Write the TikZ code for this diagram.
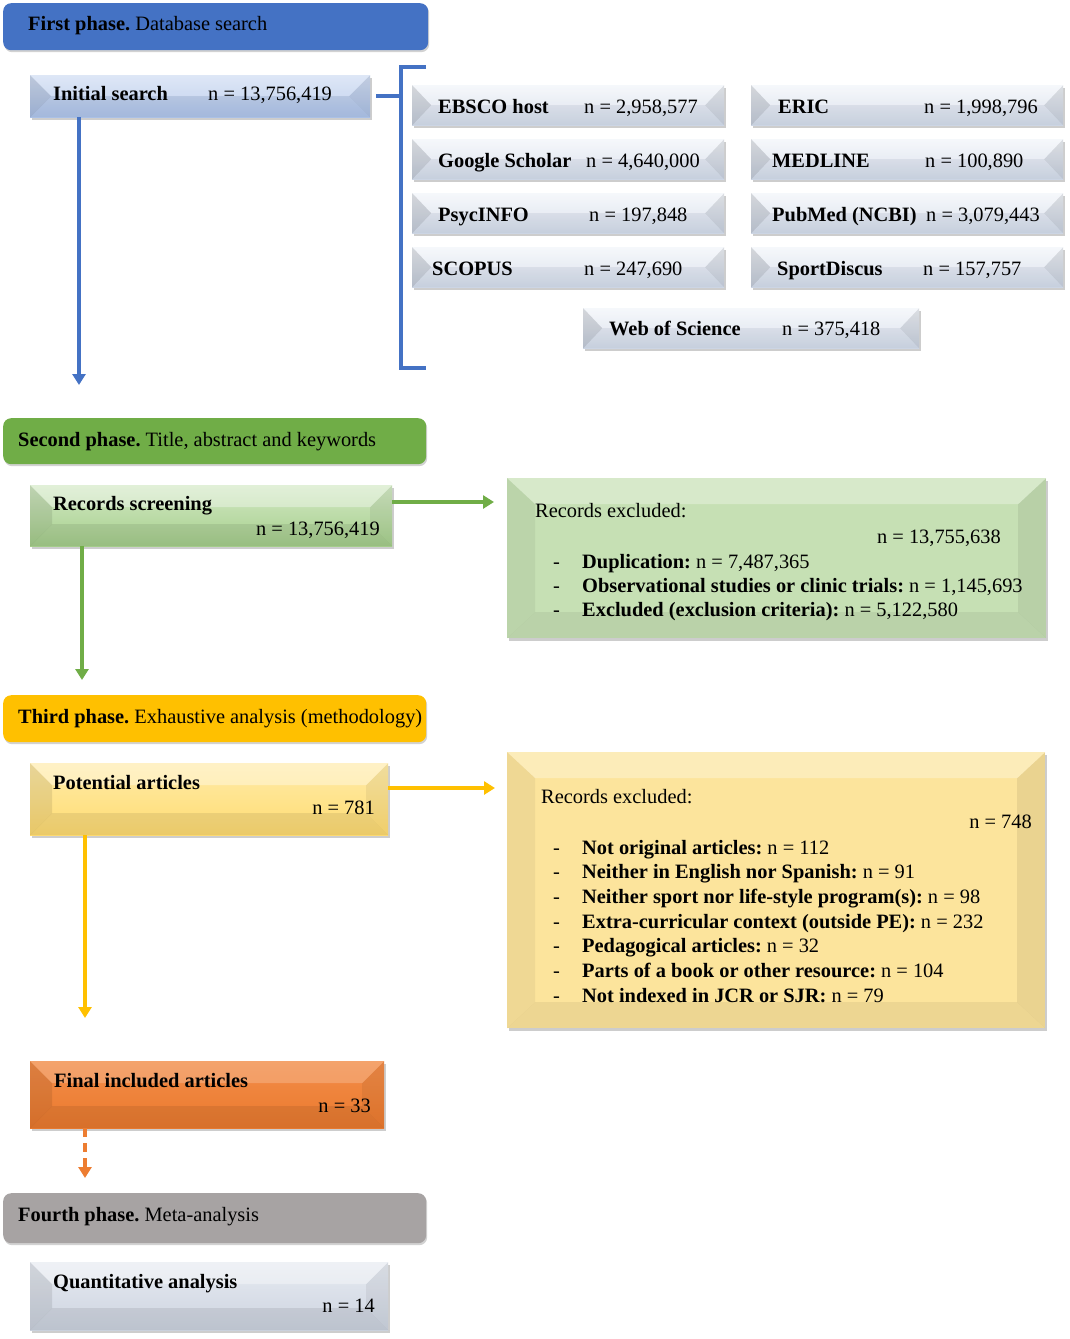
\documentclass[tikz,border=0pt]{standalone}
\usepackage{fontspec}
\setmainfont{Liberation Serif}
\usetikzlibrary{arrows.meta,shadows,calc}

\definecolor{pblue}{HTML}{4472C4}
\definecolor{pgreen}{HTML}{70AD47}
\definecolor{pgold}{HTML}{FFC000}
\definecolor{porange}{HTML}{ED7D31}
\definecolor{pgray}{HTML}{A7A3A3}
\definecolor{dbtop}{HTML}{F2F5FA}
\definecolor{dbbot}{HTML}{CDD6E5}
\definecolor{inittop}{HTML}{D3DFF4}
\definecolor{initbot}{HTML}{ACC2E8}
\definecolor{rstop}{HTML}{D2E8C4}
\definecolor{rsbot}{HTML}{A6CF8C}
\definecolor{gexfill}{HTML}{C6E0B4}
\definecolor{patop}{HTML}{FFEBA8}
\definecolor{pabot}{HTML}{FFDC72}
\definecolor{yexfill}{HTML}{FCE49C}
\definecolor{fintop}{HTML}{F28C48}
\definecolor{finbot}{HTML}{EB7A2E}
\definecolor{qatop}{HTML}{E6EAF1}
\definecolor{qabot}{HTML}{CDD4E0}

\tikzset{
  x=1pt, y=-1pt,
  bvx/.store in=\bvx, bvy/.store in=\bvy, bvx=20pt, bvy=8pt,
  btop/.store in=\btop, bleft/.store in=\bleft, bright/.store in=\bright, bbot/.store in=\bbot,
  btop=.35, bleft=.09, bright=.06, bbot=.08,
  bevel/.style={path picture={
    \fill[white,opacity=\btop] let \p1=(path picture bounding box.south west), \p2=(path picture bounding box.north east) in
      (\x1,\y2) -- (\x2,\y2) -- (\x2-\bvx,\y2-\bvy) -- (\x1+\bvx,\y2-\bvy) -- cycle;
    \fill[black,opacity=\bleft] let \p1=(path picture bounding box.south west), \p2=(path picture bounding box.north east) in
      (\x1,\y2) -- (\x1+\bvx,\y2-\bvy) -- (\x1+\bvx,\y1+\bvy) -- (\x1,\y1) -- cycle;
    \fill[black,opacity=\bright] let \p1=(path picture bounding box.south west), \p2=(path picture bounding box.north east) in
      (\x2,\y2) -- (\x2-\bvx,\y2-\bvy) -- (\x2-\bvx,\y1+\bvy) -- (\x2,\y1) -- cycle;
    \fill[black,opacity=\bbot] let \p1=(path picture bounding box.south west), \p2=(path picture bounding box.north east) in
      (\x1,\y1) -- (\x1+\bvx,\y1+\bvy) -- (\x2-\bvx,\y1+\bvy) -- (\x2,\y1) -- cycle;
  }},
  box/.style={anchor=north west, inner sep=0pt, bevel,
    drop shadow={shadow xshift=1.5pt, shadow yshift=-3pt, opacity=.28, fill=black!70}},
  dbbox/.style={box, top color=dbtop, bottom color=dbbot, minimum width=312, minimum height=40,
    bvx=19pt, bvy=20pt, btop=.3, bleft=.12, bright=.09, bbot=.03},
  phase/.style={anchor=north west, inner sep=0pt, rounded corners=8pt,
    drop shadow={shadow xshift=1pt, shadow yshift=-2pt, opacity=.25, fill=black!70}},
  txt/.style={inner sep=0pt, font=\fontsize{20.4}{25}\selectfont\frenchspacing},
  tl/.style={txt, anchor=base west},
  tr/.style={txt, anchor=base east},
  con/.style={line width=3.8pt},
  arr/.style={line width=3.8pt, -{Triangle[width=13pt,length=11pt]}},
}

\begin{document}
\begin{tikzpicture}
\useasboundingbox (0,0) rectangle (1070,1339);

% ---------- First phase ----------
\node[phase, fill=pblue, minimum width=425, minimum height=47] (ph1) at (3,3) {};
\node[tl] (ph1t) at (28,30.5) {\textbf{First phase.} Database search};

\node[box, top color=inittop, bottom color=initbot, minimum width=340, minimum height=42, bvx=21pt, bvy=21pt, btop=.25, bleft=.1, bright=.08, bbot=.05] (init) at (30,75) {};
\node[tl] (initl) at (53,100) {\textbf{Initial search}};
\node[tl] (initn) at (208,100) {n = 13,756,419};

% databases
\node[dbbox] (ebsco) at (412,85) {};
\node[dbbox] (gs) at (412,139) {};
\node[dbbox] (psyc) at (412,193) {};
\node[dbbox] (scopus) at (412,247) {};
\node[dbbox] (eric) at (751,85) {};
\node[dbbox] (medline) at (751,139) {};
\node[dbbox] (pubmed) at (751,193) {};
\node[dbbox] (sport) at (751,247) {};
\node[dbbox, minimum width=336] (wos) at (583,308) {};

\node[tl] (ebscol) at (438,113) {\textbf{EBSCO host}};
\node[tl] (ebscon) at (584,113) {n = 2,958,577};
\node[tl] (gsl) at (438,167) {\textbf{Google Scholar}};
\node[tl] (gsn) at (586,167) {n = 4,640,000};
\node[tl] (psycl) at (438,221) {\textbf{PsycINFO}};
\node[tl] (psycn) at (589,221) {n = 197,848};
\node[tl] (scopusl) at (432,275) {\textbf{SCOPUS}};
\node[tl] (scopusn) at (584,275) {n = 247,690};
\node[tl] (ericl) at (778,113) {\textbf{ERIC}};
\node[tl] (ericn) at (924,113) {n = 1,998,796};
\node[tl] (medl) at (772,167) {\textbf{MEDLINE}};
\node[tl] (medn) at (925,167) {n = 100,890};
\node[tl] (publ) at (772,221) {\textbf{PubMed (NCBI)}};
\node[tl] (pubn) at (926,221) {n = 3,079,443};
\node[tl] (sportl) at (777,275) {\textbf{SportDiscus}};
\node[tl] (sportn) at (923,275) {n = 157,757};
\node[tl] (wosl) at (609,335) {\textbf{Web of Science}};
\node[tl] (wosn) at (782,335) {n = 375,418};

% bracket and connectors
\coordinate (brt) at (426,67);
\coordinate (brb) at (426,368);
\coordinate (brx) at (401,0);
\draw[con, pblue] (brt) -- (brt -| brx) -- (brb -| brx) -- (brb);
\draw[con, pblue] ([xshift=6pt]init.east) -- (init.east -| brx);
\coordinate (a1) at (79,385);
\draw[arr, pblue] (init.south -| a1) -- (a1);

% ---------- Second phase ----------
\node[phase, fill=pgreen, minimum width=423, minimum height=46] (ph2) at (3,418) {};
\node[tl] (ph2t) at (18,446) {\textbf{Second phase.} Title, abstract and keywords};

\node[box, top color=rstop, bottom color=rsbot, minimum width=362, minimum height=61, bvx=22pt, bvy=22pt] (rs) at (30,485) {};
\node[tl] (rsl) at (53,510) {\textbf{Records screening}};
\node[tr] (rsn) at (380,535) {n = 13,756,419};

\node[box, fill=gexfill, minimum width=539, minimum height=160, bvx=28pt, bvy=26pt, btop=.3, bleft=.05, bright=.07, bbot=.06] (gex) at (507,478) {};
\node[tl] (gexl) at (535,517) {Records excluded:};
\node[tr] (gexn) at (1001,543) {n = 13,755,638};
\foreach \t [count=\i] in {{\textbf{Duplication:} n = 7,487,365},
  {\textbf{Observational studies or clinic trials:} n = 1,145,693},
  {\textbf{Excluded (exclusion criteria):} n = 5,122,580}}{
  \node[tl] (gexd\i) at (553,{568.5+24*(\i-1)}) {-};
  \node[tl] (gexi\i) at (582,{568.5+24*(\i-1)}) {\t};
}

\coordinate (a2) at (494,502);
\draw[arr, pgreen] (rs.east |- a2) -- (a2);
\coordinate (a3) at (82,680);
\draw[arr, pgreen] (rs.south -| a3) -- (a3);

% ---------- Third phase ----------
\node[phase, fill=pgold, minimum width=423, minimum height=47] (ph3) at (3,695) {};
\node[tl] (ph3t) at (18,723) {\textbf{Third phase.} Exhaustive analysis (methodology)};

\node[box, top color=patop, bottom color=pabot, minimum width=358, minimum height=72, bvx=22pt, bvy=22pt] (pa) at (30,763) {};
\node[tl] (pal) at (53,789) {\textbf{Potential articles}};
\node[tr] (pan) at (375,814) {n = 781};

\node[box, fill=yexfill, minimum width=538, minimum height=276, bvx=28pt, bvy=26pt, btop=.3, bleft=.05, bright=.07, bbot=.06] (yex) at (507,752) {};
\node[tl] (yexl) at (541,803) {Records excluded:};
\node[tr] (yexn) at (1032,828) {n = 748};
\foreach \t [count=\i] in {{\textbf{Not original articles:} n = 112},
  {\textbf{Neither in English nor Spanish:} n = 91},
  {\textbf{Neither sport nor life-style program(s):} n = 98},
  {\textbf{Extra-curricular context (outside PE):} n = 232},
  {\textbf{Pedagogical articles:} n = 32},
  {\textbf{Parts of a book or other resource:} n = 104},
  {\textbf{Not indexed in JCR or SJR:} n = 79}}{
  \node[tl] (yexd\i) at (553,{854+24.67*(\i-1)}) {-};
  \node[tl] (yexi\i) at (582,{854+24.67*(\i-1)}) {\t};
}

\coordinate (a4) at (495,788);
\draw[arr, pgold] (pa.east |- a4) -- (a4);
\coordinate (a5) at (85,1018);
\draw[arr, pgold] (pa.south -| a5) -- (a5);

% ---------- Final included ----------
\node[box, top color=fintop, bottom color=finbot, minimum width=354, minimum height=67, bvx=22pt, bvy=22pt, btop=.2] (fin) at (30,1061) {};
\node[tl] (finl) at (54,1087) {\textbf{Final included articles}};
\node[tr] (finn) at (371,1112) {n = 33};

\coordinate (a6) at (85,1178);
\draw[arr, porange, dash pattern=on 9pt off 6pt] (fin.south -| a6) -- (a6);

% ---------- Fourth phase ----------
\node[phase, fill=pgray, minimum width=423, minimum height=50] (ph4) at (3,1193) {};
\node[tl] (ph4t) at (18,1221) {\textbf{Fourth phase.} Meta-analysis};

\node[box, top color=qatop, bottom color=qabot, minimum width=358, minimum height=68, bvx=22pt, bvy=22pt] (qa) at (30,1262) {};
\node[tl] (qal) at (53,1288) {\textbf{Quantitative analysis}};
\node[tr] (qan) at (375,1312) {n = 14};
\end{tikzpicture}
\end{document}
